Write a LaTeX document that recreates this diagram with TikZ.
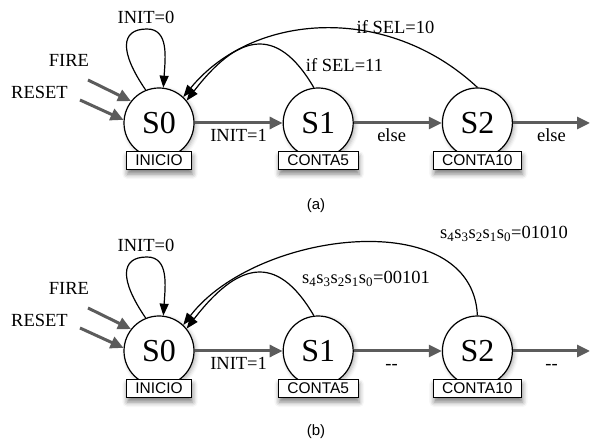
\documentclass[tikz,border=0pt]{standalone}
\usepackage{fontspec}
\setmainfont{Liberation Serif}
\setsansfont{Liberation Sans}
\usetikzlibrary{arrows.meta,positioning,shadows.blur}
\definecolor{arrgray}{HTML}{5C5C5C}
\newcommand{\sbits}{s\textsubscript{4}s\textsubscript{3}s\textsubscript{2}s\textsubscript{1}s\textsubscript{0}}

\begin{document}
\begin{tikzpicture}[x=1pt, y=1pt,
      state/.style={circle, draw, line width=1.2pt, fill=white, minimum size=70pt, inner sep=0pt,
                    font=\fontsize{32}{34}\selectfont,
                    blur shadow={shadow xshift=2pt, shadow yshift=-2pt, shadow opacity=30, shadow blur radius=4pt}},
      tag/.style={draw, line width=1pt, fill=white, minimum height=18pt, inner xsep=9pt, inner ysep=0pt,
                  font=\sffamily\fontsize{15.5}{17}\selectfont,
                  blur shadow={shadow xshift=1pt, shadow yshift=-5pt, shadow opacity=50, shadow blur radius=5pt}},
      txt/.style={font=\fontsize{18.5}{21}\selectfont, inner sep=0pt},
      elbl/.style={txt, text=black, below=5pt, text height=12.5pt, text depth=0pt},
      subcap/.style={font=\sffamily\fontsize{15}{17}\selectfont},
      tr/.style={-{Triangle[length=13pt, width=12pt]}, line width=3pt, arrgray},
      back/.style={-{Triangle[length=12pt, width=9pt]}, line width=1.2pt}
    ]
  \useasboundingbox (0,0) rectangle (590,442);

  % (a)
  \node[state] (s0a) at (159,319) {S0};
  \node[state, right=88pt of s0a] (s1a) {S1};
  \node[state, right=88pt of s1a] (s2a) {S2};
  \node[tag, below=-8pt of s0a] (t0a) {INICIO};
  \node[tag, below=-8pt of s1a] (t1a) {CONTA5};
  \node[tag, below=-8pt of s2a] (t2a) {CONTA10};

  \coordinate (firea) at (88,362);
  \coordinate (reseta) at (80,342);
  \coordinate (outa) at (590,319);
  \coordinate (loopa) at (147,413);
  \node[txt] (fa) at (69,382) {FIRE};
  \node[txt] (ra) at (39.5,350) {RESET};
  \draw[tr] (firea) -- (s0a.142);
  \draw[tr] (reseta) -- (s0a.175);
  \draw[tr] (s0a) -- node[elbl] (i1a) {INIT=1} (s1a);
  \draw[tr] (s1a) -- node[elbl, pos=0.43] (e1a) {else} (s2a);
  \draw[tr] (s2a) -- node[elbl] (e2a) {else} (outa);

  \draw[back] (s0a.112) .. controls +(-26,38) and +(-27,0) .. (loopa)
              .. controls +(22,0) and +(2,30) .. (s0a.83);
  \node[txt] (i0a) at (146,425) {INIT=0};
  \draw[back] (s2a.90) .. controls +(-90,84) and +(70,85) .. (s0a.47);
  \draw[back] (s1a.97) .. controls +(-38,65) and +(50,65) .. (s0a.39);
  \node[txt] (sel10) at (395.5,415) {if SEL=10};
  \node[txt] (sel11) at (344.5,377) {if SEL=11};
  \node[subcap] (capa) at (316,236) {(a)};

  % (b)
  \node[state] (s0b) at (159,91) {S0};
  \node[state, right=88pt of s0b] (s1b) {S1};
  \node[state, right=88pt of s1b] (s2b) {S2};
  \node[tag, below=-8pt of s0b] (t0b) {INICIO};
  \node[tag, below=-8pt of s1b] (t1b) {CONTA5};
  \node[tag, below=-8pt of s2b] (t2b) {CONTA10};

  \coordinate (fireb) at (88,134);
  \coordinate (resetb) at (80,114);
  \coordinate (outb) at (590,91);
  \coordinate (loopb) at (147,185);
  \node[txt] (fb) at (69,154) {FIRE};
  \node[txt] (rb) at (39.5,122) {RESET};
  \draw[tr] (fireb) -- (s0b.142);
  \draw[tr] (resetb) -- (s0b.175);
  \draw[tr] (s0b) -- node[elbl] (i1b) {INIT=1} (s1b);
  \draw[tr] (s1b) -- node[elbl, pos=0.43] (e1b) {-{}-} (s2b);
  \draw[tr] (s2b) -- node[elbl] (e2b) {-{}-} (outb);

  \draw[back] (s0b.112) .. controls +(-26,38) and +(-27,0) .. (loopb)
              .. controls +(22,0) and +(2,30) .. (s0b.83);
  \node[txt] (i0b) at (146,197) {INIT=0};
  \draw[back] (s2b.90) .. controls +(-5,111) and +(73,95) .. (s0b.47);
  \draw[back] (s1b.97) .. controls +(-38,65) and +(50,65) .. (s0b.39);
  \node[txt] (bits10) at (504,208) {\sbits=01010};
  \node[txt] (bits5) at (366,163) {\sbits=00101};
  \node[subcap] (capb) at (316,10) {(b)};
\end{tikzpicture}
\end{document}
